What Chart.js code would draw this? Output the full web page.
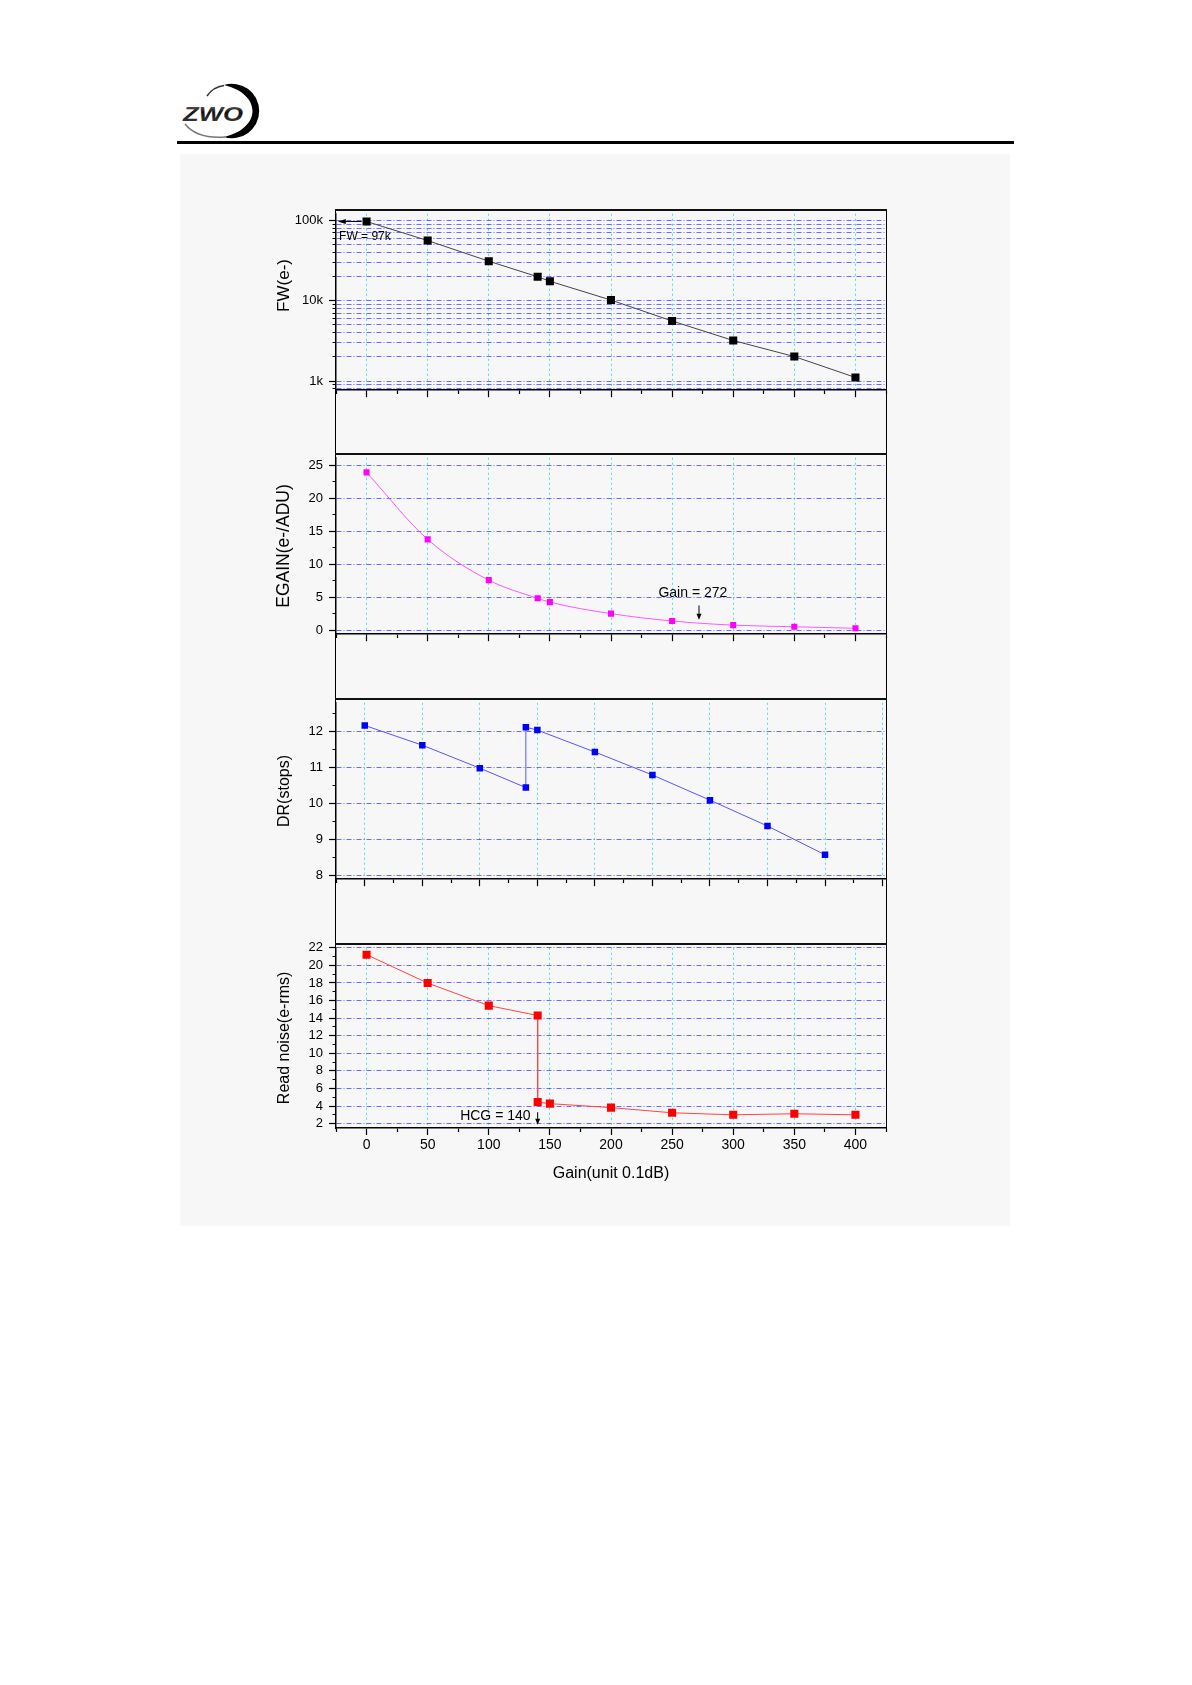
<!DOCTYPE html>
<html>
<head>
<meta charset="utf-8">
<script src="https://cdn.jsdelivr.net/npm/chart.js@4.4.1/dist/chart.umd.min.js"></script>
<style>
  html, body { margin:0; padding:0; background:#fff; }
  body { width:1192px; height:1685px; position:relative; overflow:hidden; font-family:"Liberation Sans", Arial, sans-serif; }
  #rule { position:absolute; left:177px; top:141px; width:837px; height:2.5px; background:#000; }
  #sheet { position:absolute; left:180px; top:154px; width:830px; height:1072px; background:#f7f7f7; }
  #frame { position:absolute; left:335px; top:209px; width:552px; height:920px; box-sizing:border-box;
           border-left:1.5px solid #000; border-right:1.5px solid #000; }
  .ptop { position:absolute; left:335px; width:552px; height:2px; background:#111; }
  canvas { position:absolute; left:260px; }
  #logo { position:absolute; left:176px; top:80px; }
</style>
</head>
<body>
<svg id="logo" width="90" height="64" viewBox="176 80 90 64">
  <defs>
    <linearGradient id="lg" x1="0" y1="0" x2="0" y2="1">
      <stop offset="0" stop-color="#888"/>
      <stop offset="0.45" stop-color="#111"/>
      <stop offset="1" stop-color="#444"/>
    </linearGradient>
  </defs>
  <path d="M 224 85 A 27.2 27.2 0 1 1 224 137 C 262 128, 262 94, 224 85 Z" fill="#000"/>
  <path d="M 207 96 Q 213 87 224 85.5" stroke="#333" stroke-width="1.5" fill="none"/>
  <path d="M 185 124 Q 197 139 225 137" stroke="#777" stroke-width="1.5" fill="none"/>
  <text x="183" y="121" font-family="Liberation Sans, Arial" font-weight="bold" font-style="italic"
        font-size="21" textLength="60" lengthAdjust="spacingAndGlyphs" fill="url(#lg)">ZWO</text>
</svg>
<div id="rule"></div>
<div id="sheet"></div>
<div id="frame"></div>
<div class="ptop" style="top:209px"></div>
<div class="ptop" style="top:453px"></div>
<div class="ptop" style="top:698px"></div>
<div class="ptop" style="top:943px"></div>

<canvas id="fw" width="640" height="204" style="top:200px"></canvas>
<canvas id="egain" width="640" height="204" style="top:444px"></canvas>
<canvas id="dr" width="640" height="204" style="top:689px"></canvas>
<canvas id="rn" width="640" height="256" style="top:934px"></canvas>

<script>
// ---- data ----
const gain = [0, 50, 100, 140, 150, 200, 250, 300, 350, 400];
const fullWell = [97000, 56200, 31100, 19900, 17500, 10200, 5600, 3200, 2020, 1110];
const eGain = [23.89, 13.75, 7.58, 4.83, 4.25, 2.51, 1.40, 0.77, 0.53, 0.29];

const gainHcg = [0, 50, 100, 140, 140, 150, 200, 250, 300, 350, 400];
const dynRange = [12.17, 11.62, 10.98, 10.44, 12.12, 12.04, 11.43, 10.79, 10.09, 9.37, 8.57];
const readNoise = [21.22, 17.99, 15.42, 14.30, 4.45, 4.27, 3.82, 3.23, 3.00, 3.12, 3.00];

// ---- tick labels ----
const gainTicks = [0, 50, 100, 150, 200, 250, 300, 350, 400];
const drGainTicks = [0, 50, 100, 150, 200, 250, 300, 350, 400, 450];
const fwDecades = [1000, 10000, 100000];
const fwDecadeLabels = ['1k', '10k', '100k'];
const egainTicks = [0, 5, 10, 15, 20, 25];
const drTicks = [8, 9, 10, 11, 12];
const rnTicks = [2, 4, 6, 8, 10, 12, 14, 16, 18, 20, 22];

const FONT = '"Liberation Sans", Arial, sans-serif';
const BLUE = 'rgba(60,60,255,0.75)';
const CYAN = 'rgba(40,220,235,0.85)';
const CLEAR = 'rgba(0,0,0,0)';
const TICK = 7, MINOR = 3.5;
Chart.defaults.font.family = FONT;

function near(a, b){ return Math.abs(a - b) < 1e-6 * Math.max(1, Math.abs(b)); }
function has(list, v){ return list.some(m => near(m, v)); }

// majors plus half-step minors inside [min,max]
function halfSteps(majors, min, max){
  const s = (majors[1] - majors[0]) / 2;
  const out = [];
  let v = majors[0] - s * Math.floor((majors[0] - min) / s + 1e-9);
  for (; v <= max + 1e-9; v += s) out.push(Math.round(v * 1000) / 1000);
  return out;
}
function logSteps(min, max){
  const out = [];
  for (let d = 100; d <= 1e6; d *= 10)
    for (let m = 1; m <= 9; m++){ const v = m * d; if (v >= min && v <= max) out.push(v); }
  return out;
}

/* AXES */
function xAxis(range, majors, labelled){
  return {
    type: 'linear', min: range[0], max: range[1],
    afterBuildTicks: ax => { ax.ticks = halfSteps(majors, range[0], range[1]).map(v => ({value: v})); },
    afterFit: ax => { ax.height = labelled ? 62 : 10; },
    ticks: { display: labelled, autoSkip: false, maxRotation: 0, padding: 2, color: '#000',
             font: { size: 14 }, callback: v => has(majors, v) ? String(v) : '' },
    grid: { color: c => has(majors, c.tick.value) ? CYAN : CLEAR, lineWidth: 1,
            tickLength: TICK, tickColor: '#000', tickWidth: 1.2,
            tickBorderDash: c => has(majors, c.tick.value) ? [] : [MINOR, 40] },
    border: { display: true, color: '#000', width: 1.5, dash: [2, 3] },
    title: { display: labelled, text: 'Gain(unit 0.1dB)', color: '#000',
             font: { size: 16 }, padding: { top: 0, bottom: 6.4 } }
  };
}

// title centre sits ~24.5px from the canvas left edge
function yAxis(title, size, extra){
  return Object.assign({
    afterFit: ax => { ax.width = 76; },
    ticks: { autoSkip: false, padding: 6, color: '#000', font: { size: 13 } },
    border: { display: true, color: '#000', width: 1.5, dash: [5, 2, 1, 2] },
    title: { display: true, text: title, color: '#000', font: { size: size },
             padding: { top: 24.5 - size * 0.6, bottom: 0 } }
  }, extra);
}

function linearY(title, size, majors, range){
  const y = yAxis(title, size, { type: 'linear', min: range[0], max: range[1],
    afterBuildTicks: ax => { ax.ticks = halfSteps(majors, range[0], range[1]).map(v => ({value: v})); } });
  y.ticks.callback = v => has(majors, v) ? String(v) : '';
  y.grid = { color: c => has(majors, c.tick.value) ? BLUE : CLEAR, lineWidth: 1,
             tickLength: TICK, tickColor: '#000', tickWidth: 1.2,
             tickBorderDash: c => has(majors, c.tick.value) ? [] : [0, TICK - MINOR, MINOR, 40] };
  return y;
}

/* ANNOTATIONS */
const notesPlugin = {
  id: 'notes',
  afterDatasetsDraw(chart, args, opts){
    const {ctx, scales: {x, y}} = chart;
    (opts.items || []).forEach(n => {
      ctx.save();
      ctx.fillStyle = '#000'; ctx.strokeStyle = '#000';
      if (n.kind === 'arrow'){
        const x1 = x.getPixelForValue(n.from[0]), y1 = y.getPixelForValue(n.from[1]);
        const x2 = x.getPixelForValue(n.to[0]), y2 = y.getPixelForValue(n.to[1]);
        const a = Math.atan2(y2 - y1, x2 - x1), L = n.head, W = n.wing;
        const c = Math.cos(a), s = Math.sin(a);
        ctx.lineWidth = 1;
        ctx.beginPath(); ctx.moveTo(x1, y1); ctx.lineTo(x2 - c * L * 0.8, y2 - s * L * 0.8); ctx.stroke();
        ctx.beginPath(); ctx.moveTo(x2, y2);
        ctx.lineTo(x2 - L * c + W * s, y2 - L * s - W * c);
        ctx.lineTo(x2 - L * c - W * s, y2 - L * s + W * c);
        ctx.closePath(); ctx.fill();
      } else {
        ctx.font = n.size + 'px ' + FONT;
        ctx.textAlign = n.align; ctx.textBaseline = 'middle';
        ctx.fillText(n.text, x.getPixelForValue(n.at[0]), y.getPixelForValue(n.at[1]));
      }
      ctx.restore();
    });
  }
};

function series(xs, ys, color, lineColor, radius, extra){
  return Object.assign({
    data: xs.map((g, i) => ({x: g, y: ys[i]})),
    showLine: true, borderColor: lineColor, borderWidth: 1,
    pointStyle: 'rect', pointRadius: radius, pointBorderWidth: 0,
    pointBackgroundColor: color, tension: 0
  }, extra || {});
}

function makeChart(id, dataset, xOpts, yOpts, notes){
  return new Chart(document.getElementById(id), {
    type: 'scatter',
    data: { datasets: [dataset] },
    options: {
      responsive: false, animation: false, devicePixelRatio: 1,
      layout: { autoPadding: false, padding: { left: 0, right: 14, top: 10, bottom: 0 } },
      plugins: { legend: { display: false }, tooltip: { enabled: false }, notes: { items: notes } },
      scales: { x: xOpts, y: yOpts }
    },
    plugins: [notesPlugin]
  });
}

/* FW */
const fwY = yAxis('       FW(e-)', 17, {
  type: 'logarithmic', min: 770, max: 121000,
  afterBuildTicks: ax => { ax.ticks = logSteps(770, 121000).map(v => ({value: v})); }
});
fwY.ticks.callback = v => { const i = fwDecades.findIndex(d => near(d, v)); return i < 0 ? '' : fwDecadeLabels[i]; };
fwY.grid = { color: BLUE, lineWidth: 1, tickLength: TICK, tickColor: '#000', tickWidth: 1.2,
             tickBorderDash: c => has(fwDecades, c.tick.value) ? [] : [0, TICK - MINOR, MINOR, 40] };

makeChart('fw', series(gain, fullWell, '#000', '#444', 5.7),
  xAxis([-25, 425], gainTicks, false), fwY,
  [ {kind: 'arrow', from: [-4, 97000], to: [-23.5, 97000], head: 8, wing: 2.5},
    {kind: 'text', at: [-22.5, 62000], text: 'FW = 97k', size: 12, align: 'left'} ]);

/* EGAIN */
makeChart('egain', series(gain, eGain, '#ff00ff', '#ff55ff', 4.3, {cubicInterpolationMode: 'monotone'}),
  xAxis([-25, 425], gainTicks, false), linearY('EGAIN(e-/ADU)', 17.5, egainTicks, [-0.6, 26.1]),
  [ {kind: 'text', at: [267, 5.58], text: 'Gain = 272', size: 14, align: 'center'},
    {kind: 'arrow', from: [272, 3.75], to: [272, 1.58], head: 6, wing: 2.5} ]);

/* DR */
makeChart('dr', series(gainHcg, dynRange, '#0000ff', '#5555ff', 4.6),
  xAxis([-25, 453], drGainTicks, false), linearY('DR(stops)', 16, drTicks, [7.89, 12.8]), []);

/* READ NOISE */
makeChart('rn', series(gainHcg, readNoise, '#ff0000', '#ff4444', 5.7),
  xAxis([-25, 425], gainTicks, true), linearY('Read noise(e-rms)', 16, rnTicks, [1.5, 22]),
  [ {kind: 'text', at: [134.2, 2.86], text: 'HCG = 140', size: 14, align: 'right'},
    {kind: 'arrow', from: [140, 3.3], to: [140, 1.86], head: 6, wing: 2.5} ]);
</script>
</body>
</html>
